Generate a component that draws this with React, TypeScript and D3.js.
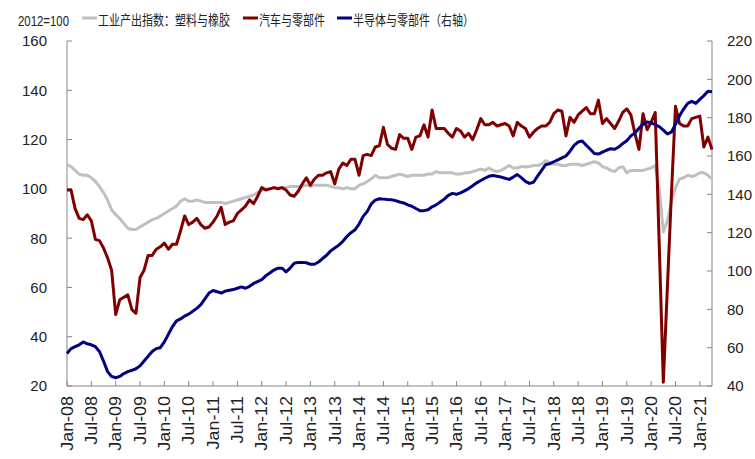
import React from "react";
import * as d3 from "d3";

const startYear = 2008;
const monthNames = ["Jan", "Feb", "Mar", "Apr", "May", "Jun", "Jul", "Aug", "Sep", "Oct", "Nov", "Dec"];

// 工业产出指数：塑料与橡胶 (left axis), Jan-08 .. Apr-21
const plastics = [
  110, 109, 107.5, 106, 105.5, 105.5, 104.5, 103, 101, 98.5, 95.5, 91.5,
  89.5, 88, 86, 84, 83.5, 83.5, 84.5, 85.5, 86.5, 87.5, 88, 89,
  90, 91, 92, 93, 95, 96, 95, 95, 95.5, 95, 94.5, 94.5,
  94.5, 94.5, 94.5, 94, 94.5, 95, 95.5, 96, 96.5, 97, 97.5, 98.5,
  99.5, 100, 100, 100.5, 100.5, 100.5, 100.5, 101, 101, 101, 101, 101.5,
  101, 101.5, 101.5, 101.5, 101.5, 101, 100.5, 100.5, 100, 100.5, 100, 100,
  101.5, 102, 103, 104, 105.5, 104.5, 104.5, 104.5, 105, 105.5, 106, 105.5,
  105, 105.5, 105.5, 105.5, 105.5, 106, 106, 107, 106.5, 106.5, 106.5, 106.5,
  106, 106, 106.5, 106.5, 107, 107.5, 108, 107.5, 108.5, 107.5, 107, 107.5,
  108.5, 109.5, 108.5, 108.5, 109, 109, 109, 109.5, 109.5, 110, 111.5, 110.5,
  110, 110, 109.5, 109.5, 110, 110, 110, 109.5, 110, 110.5, 111, 110.5,
  109, 108.5, 107.5, 107, 108.5, 109, 106.5, 107.5, 107.5, 107.5, 107.5, 108,
  108.5, 109.5, 100, 82.5, 87, 95, 100.5, 104, 104.5, 105.5, 105, 105.5,
  106.5, 106.5, 105.5, 104,
];

// 汽车与零部件 (left axis)
const autos = [
  99.5, 99.5, 92, 88, 87.5, 89.5, 87, 79.5, 79, 76, 72, 67,
  49, 55, 56, 57, 51, 49.5, 64, 67, 73, 73, 75.5, 76.5,
  78, 75.5, 77.5, 77.5, 83, 89, 85.5, 86.5, 88, 85.5, 84, 84.5,
  86.5, 89, 92.5, 85.5, 86.5, 87, 90, 91.5, 93, 95.5, 94, 97,
  100.5, 99.5, 100, 100.5, 100, 100.5, 99.5, 97.5, 97, 99, 102, 104.5,
  101.5, 104, 105.5, 105.5, 106.5, 107, 102, 108, 110.5, 109.5, 112, 112,
  105.5, 113.5, 114, 113.5, 117, 117.5, 125, 118, 116.5, 116, 122, 120.5,
  120.5, 116, 121, 121.5, 126, 121, 132, 124.5, 124.5, 124.5, 122.5, 121,
  124.5, 123.5, 121, 122.5, 120, 124, 128.5, 126, 126, 127, 125.5, 126,
  126.5, 125.5, 121.5, 127, 125.5, 124.5, 121, 123, 124.5, 125.5, 125.5, 127,
  130.5, 132, 131.5, 121.5, 129, 127, 130, 131.5, 133, 130.5, 130.5, 136,
  126.5, 128.5, 126.5, 124.5, 127.5, 131, 132.5, 130, 122.5, 116, 130.5, 124,
  127, 131, 77, 21.5, 60, 98, 133.5, 126.5, 125.5, 125.5, 128.5, 129,
  129.5, 117, 121, 116,
];

// 半导体与零部件（右轴）
const semis = [
  57, 59.5, 60.5, 61.5, 63, 62, 61.5, 60.5, 58, 53, 47.5, 45,
  44.3, 45, 46.5, 47.5, 48.2, 49, 50.5, 53, 55.5, 58, 59.5, 60,
  63, 67, 71, 74, 75, 76.5, 77.5, 79, 80.5, 82.5, 85.5, 88.5,
  89.8, 89.2, 88.5, 89.5, 90, 90.3, 91, 91.7, 91, 92, 93.5, 94.5,
  95.5, 97.5, 99, 100.5, 101.5, 101.5, 99.5, 101.5, 104, 104.5, 104.5, 104.3,
  103.5, 103.5, 104.7, 106.5, 108.2, 110.5, 112, 113.5, 115.5, 118, 120, 121.5,
  124.5, 128.5, 131, 135, 137, 137.7, 137.5, 137.3, 137.2, 136.7, 136, 135.5,
  134.5, 133.8, 132.6, 131.5, 131.5, 132, 133.5, 134.5, 136, 137.5, 139.5, 140.5,
  140, 140.8, 141.8, 143, 144.5, 146, 147.2, 148.4, 149.4, 149.8, 149.4, 149,
  148.4, 147.8, 149, 150.3, 148.7, 146.8, 145.7, 146.3, 149.5, 152.5, 155.5, 156,
  157, 158, 159, 160, 162.5, 165.5, 167.3, 167.8, 165.6, 163.5, 161.3, 161,
  162, 163, 163.8, 163.5, 164.7, 166.5, 168, 170.5, 172, 174.5, 176.5, 177.7,
  177.3, 176.3, 175.3, 173.5, 171.5, 172.5, 176.5, 181, 184.5, 187.5, 188.5, 187.5,
  189.5, 191.5, 193.8, 193.5,
];

const leftTicks = [20, 40, 60, 80, 100, 120, 140, 160];
const rightTicks = [40, 60, 80, 100, 120, 140, 160, 180, 200, 220];
const seriesNames = ["工业产出指数：塑料与橡胶", "汽车与零部件", "半导体与零部件（右轴）"];
const unitLabel = "2012=100";

const colors = ["#c0c0c0", "#800000", "#000080"];

export default function App() {
  const W = 755, H = 459;
  const x0 = 67, x1 = 712, yTop = 41, yBot = 386;
  const n = plastics.length;
  const x = d3.scaleLinear().domain([0, n - 1]).range([x0, x1]);
  const yL = d3.scaleLinear().domain([20, 160]).range([yBot, yTop]);
  const yR = d3.scaleLinear().domain([40, 220]).range([yBot, yTop]);

  const lineL = d3.line<number>().x((_, i) => x(i)).y((d) => yL(d));
  const lineR = d3.line<number>().x((_, i) => x(i)).y((d) => yR(d));

  const xTicks = d3.range(0, n, 6);
  const labelOf = (i: number) => {
    const yr = startYear + Math.floor(i / 12);
    return `${monthNames[i % 12]}-${String(yr % 100).padStart(2, "0")}`;
  };

  const font = "Arial, 'Liberation Sans', sans-serif";
  const cjk = "'Noto Sans CJK SC', sans-serif";
  const textColor = "#222";
  const axisColor = "#868686";

  const legend = [
    { sx: 82, tx: 98 },
    { sx: 243, tx: 259 },
    { sx: 337, tx: 353 },
  ];

  return (
    <svg width={W} height={H} style={{ position: "absolute", left: 0, top: 0, background: "#fff" }}>
      {/* legend */}
      <text transform="translate(18,25.5) scale(1,1.3)" fontFamily={font} fontSize={11.4} fill={textColor}>{unitLabel}</text>
      {legend.map((l, k) => (
        <g key={k}>
          <line x1={l.sx} x2={l.sx + 15} y1={18} y2={18} stroke={colors[k]} strokeWidth={3} />
          <text transform={`translate(${l.tx},24.5) scale(1,1.27)`} fontFamily={cjk} fontSize={11}
            fill={textColor}>{seriesNames[k]}</text>
        </g>
      ))}

      {/* axes */}
      <line x1={x0} x2={x0} y1={yTop} y2={yBot} stroke={axisColor} strokeWidth={1} />
      <line x1={x1} x2={x1} y1={yTop} y2={yBot} stroke={axisColor} strokeWidth={1} />
      <line x1={x0} x2={x1} y1={yBot} y2={yBot} stroke={axisColor} strokeWidth={1} />
      {leftTicks.map((t) => (
        <g key={"l" + t}>
          <line x1={x0} x2={x0 + 5} y1={yL(t)} y2={yL(t)} stroke={axisColor} />
          <text x={47} y={yL(t)} dy="0.36em" textAnchor="end" fontFamily={font} fontSize={15} fill={textColor}>{t}</text>
        </g>
      ))}
      {rightTicks.map((t) => (
        <g key={"r" + t}>
          <line x1={x1 - 5} x2={x1} y1={yR(t)} y2={yR(t)} stroke={axisColor} />
          <text x={727} y={yR(t)} dy="0.36em" textAnchor="start" fontFamily={font} fontSize={15} fill={textColor}>{t}</text>
        </g>
      ))}
      {xTicks.map((i) => (
        <g key={"x" + i}>
          <line x1={x(i)} x2={x(i)} y1={yBot} y2={yBot - 5} stroke={axisColor} />
          <text transform={`translate(${x(i)},${yBot + 10}) rotate(-90) scale(1.12,1)`} textAnchor="end" dy="0.36em"
            fontFamily={font} fontSize={16} fill={textColor}>{labelOf(i)}</text>
        </g>
      ))}

      {/* series */}
      <path d={lineL(plastics) || ""} fill="none" stroke={colors[0]} strokeWidth={3} strokeLinejoin="round" />
      <path d={lineL(autos) || ""} fill="none" stroke={colors[1]} strokeWidth={3} strokeLinejoin="round" />
      <path d={lineR(semis) || ""} fill="none" stroke={colors[2]} strokeWidth={3} strokeLinejoin="round" />
    </svg>
  );
}
